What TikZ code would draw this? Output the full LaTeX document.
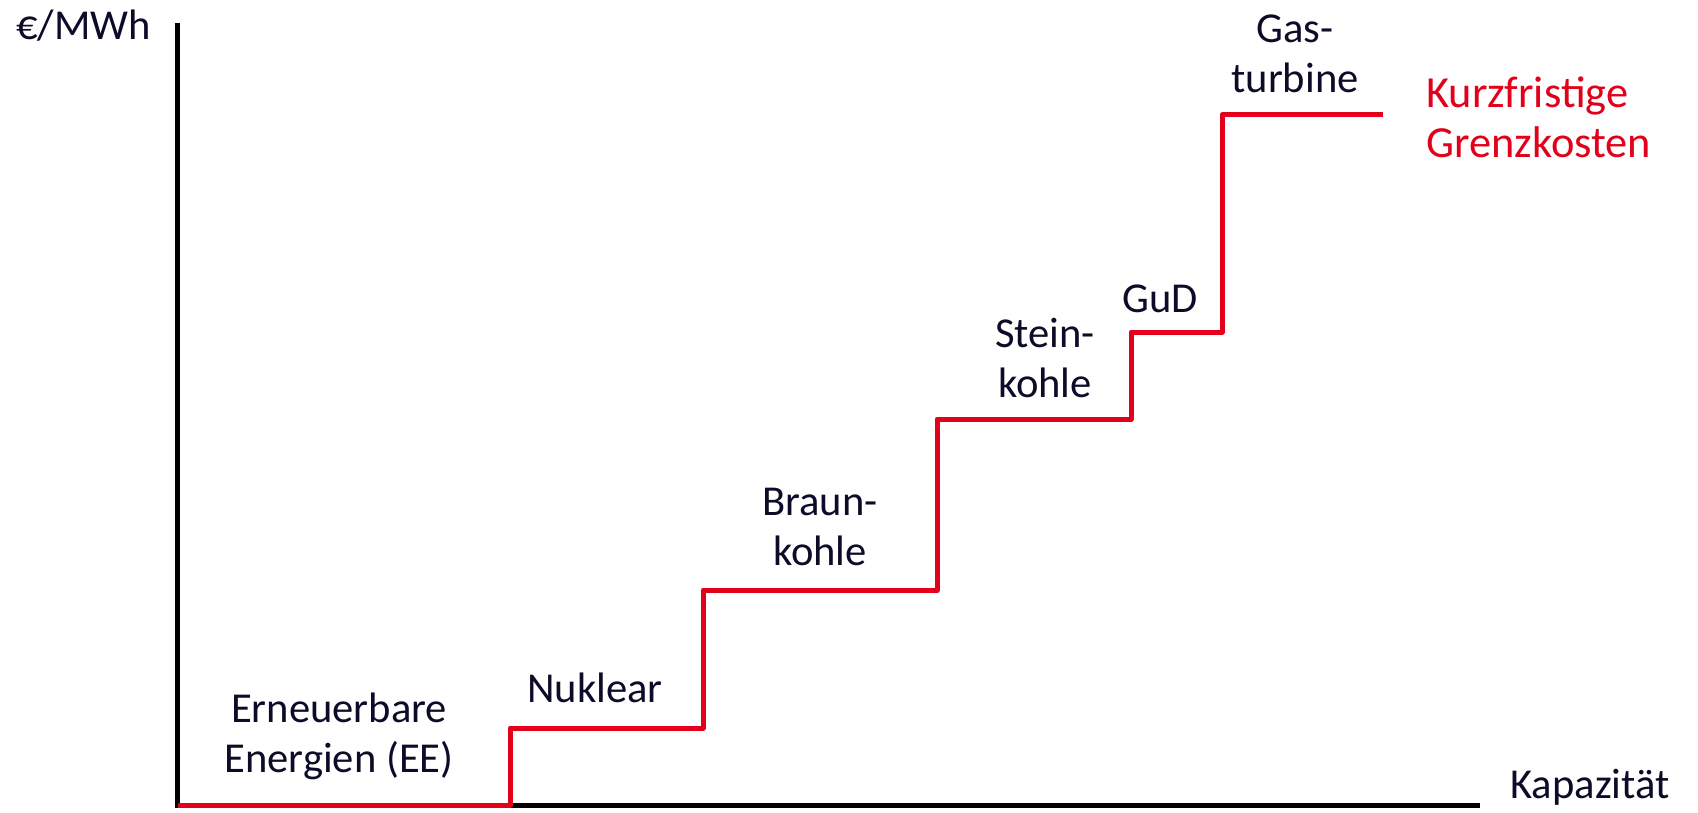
\documentclass[tikz,border=0pt]{standalone}
\usepackage{fontspec}
\setmainfont{Carlito}
\definecolor{ink}{RGB}{12,12,40}
\definecolor{curve}{RGB}{226,0,26}
\begin{document}
\begin{tikzpicture}[x=0.5pt,y=-0.5pt,
  lbl/.style={font=\fontsize{21.3}{25}\selectfont, text=ink, align=center, anchor=base, inner sep=0pt},
  axis/.style={draw=black, line width=2.5pt},
  mc/.style={draw=curve, line width=2.5pt, line join=round}]
\useasboundingbox (0,0) rectangle (1698,813);
\coordinate (ytop) at (177,23);
\coordinate (orig) at (177,805);
\coordinate (xend) at (1480,805);
\draw[axis] (ytop) -- (177,807.5);
\draw[axis] (175,805) -- (xend);
\coordinate (c0) at (178,805);
\coordinate (c1) at (510,805);
\coordinate (c2) at (510,728);
\coordinate (c3) at (703,728);
\coordinate (c4) at (703,590);
\coordinate (c5) at (937,590);
\coordinate (c6) at (937,419);
\coordinate (c7) at (1131,419);
\coordinate (c8) at (1131,332);
\coordinate (c9) at (1222,332);
\coordinate (c10) at (1222,115);
\coordinate (c11) at (1383,115);
\draw[mc] (c0) -- (c1) -- (c2) -- (c3) -- (c4) -- (c5) -- (c6) -- (c7) -- (c8) -- (c9) -- (c10) -- (c11);
\node[lbl, anchor=base west] (yl) at (16,40) {€/MWh};
\node[lbl, anchor=base west] (xl) at (1510,798) {Kapazität};
\node[lbl] (ee) at (339,772) {Erneuerbare\\Energien (EE)};
\node[lbl] (nuk) at (595,702) {Nuklear};
\node[lbl] (bk) at (820,565) {Braun-\\kohle};
\node[lbl] (sk) at (1045,397) {Stein-\\kohle};
\node[lbl] (gud) at (1160,312) {GuD};
\node[lbl] (gt) at (1295,93) {Gas-\\turbine};
\node[lbl, font=\fontsize{22.2}{25}\selectfont, align=left, anchor=base west, text=curve] (kg) at (1426,158) {Kurzfristige\\Grenzkosten};
\end{tikzpicture}
\end{document}
